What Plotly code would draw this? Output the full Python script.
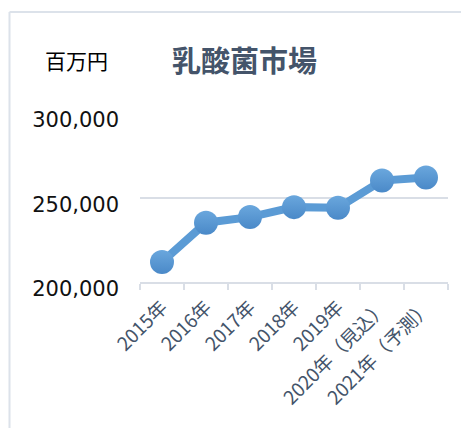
import plotly.graph_objects as go

categories = ["2015年", "2016年", "2017年", "2018年", "2019年", "2020年（見込）", "2021年（予測）"]
values = [211800, 235100, 238400, 244300, 243900, 260000, 261900]
y_ticks = [200000, 250000, 300000]
y_tick_labels = ["200,000", "250,000", "300,000"]
title_text = "乳酸菌市場"
unit_text = "百万円"

OFF = 8  # page body margin
W, H = 469, 428
ML, MR, MT, MB = 132, 29, 105, 154
PW, PH = W - ML - MR, H - MT - MB


def px_x(px):
    return (px - OFF - ML) / PW


def px_y(py):
    return (H - MB - (py - OFF)) / PH


fig = go.Figure()
fig.add_trace(go.Scatter(
    x=categories, y=values, mode="lines+markers",
    line=dict(color="#5B9BD5", width=8),
    marker=dict(size=24, color="#6AA7DD",
                gradient=dict(type="vertical", color="#4A89C8"),
                line=dict(width=0)),
    showlegend=False, hoverinfo="skip",
))

fig.update_layout(
    width=W, height=H,
    margin=dict(l=ML, r=MR, t=MT, b=MB, pad=0),
    paper_bgcolor="white", plot_bgcolor="white",
    font=dict(family="DejaVu Sans, Noto Sans CJK JP", color="#000000"),
    xaxis=dict(
        type="category", range=[-0.5, 6.5],
        showgrid=False, showline=True, linecolor="#D9DEE6", linewidth=1.5,
        ticks="outside", tickson="boundaries", ticklen=6, tickcolor="#D9DEE6", tickwidth=1.5,
        tickangle=-45,
        tickfont=dict(family="Noto Sans CJK JP", size=19, color="#44546A"),
        ticklabelstandoff=5,
    ),
    yaxis=dict(
        range=[200000, 300000], tickvals=y_ticks, ticktext=y_tick_labels,
        showgrid=True, gridcolor="#D9DEE6", gridwidth=1.5, zeroline=False,
        showline=False, ticks="",
        tickfont=dict(family="DejaVu Sans", size=21, color="#111111"),
        ticklabelstandoff=20,
        ticklabelshift=7,
    ),
    annotations=[
        dict(text="<b>" + title_text + "</b>", x=px_x(244), y=px_y(59), xref="paper", yref="paper",
             showarrow=False, xanchor="center", yanchor="middle",
             font=dict(family="Noto Sans CJK JP", size=29, color="#44546A")),
        dict(text=unit_text, x=px_x(76), y=px_y(60), xref="paper", yref="paper",
             showarrow=False, xanchor="center", yanchor="middle",
             font=dict(family="Noto Sans CJK JP", size=21, color="#000000")),
    ],
    shapes=[
        dict(type="line", xref="paper", yref="paper", x0=px_x(9.5), x1=px_x(480), y0=px_y(12), y1=px_y(12),
             line=dict(color="#DCE2EA", width=2)),
        dict(type="line", xref="paper", yref="paper", x0=px_x(9.5), x1=px_x(9.5), y0=px_y(12), y1=px_y(440),
             line=dict(color="#DCE2EA", width=2)),
    ],
)

fig.write_html("out.html")
